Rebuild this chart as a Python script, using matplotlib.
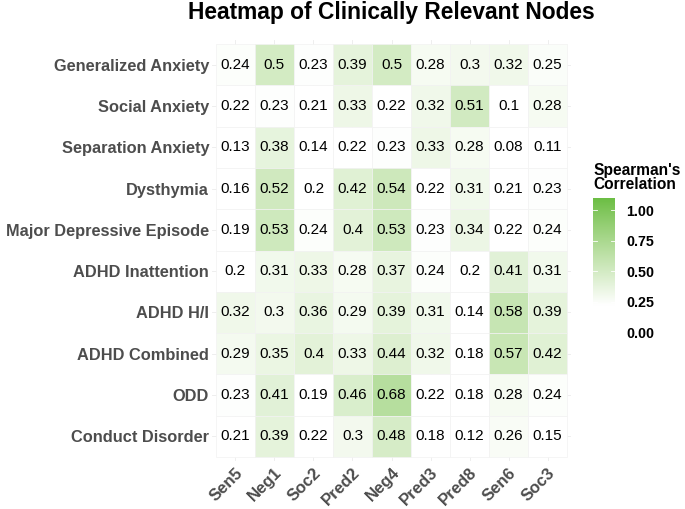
import numpy as np
import matplotlib
matplotlib.use("Agg")
import matplotlib.pyplot as plt
from matplotlib.colors import ListedColormap, Normalize

rows = ["Generalized Anxiety", "Social Anxiety", "Separation Anxiety", "Dysthymia",
        "Major Depressive Episode", "ADHD Inattention", "ADHD H/I", "ADHD Combined",
        "ODD", "Conduct Disorder"]
cols = ["Sen5", "Neg1", "Soc2", "Pred2", "Neg4", "Pred3", "Pred8", "Sen6", "Soc3"]

generalized_anxiety = [0.24, 0.5, 0.23, 0.39, 0.5, 0.28, 0.3, 0.32, 0.25]
social_anxiety = [0.22, 0.23, 0.21, 0.33, 0.22, 0.32, 0.51, 0.1, 0.28]
separation_anxiety = [0.13, 0.38, 0.14, 0.22, 0.23, 0.33, 0.28, 0.08, 0.11]
dysthymia = [0.16, 0.52, 0.2, 0.42, 0.54, 0.22, 0.31, 0.21, 0.23]
major_depressive = [0.19, 0.53, 0.24, 0.4, 0.53, 0.23, 0.34, 0.22, 0.24]
adhd_inattention = [0.2, 0.31, 0.33, 0.28, 0.37, 0.24, 0.2, 0.41, 0.31]
adhd_hi = [0.32, 0.3, 0.36, 0.29, 0.39, 0.31, 0.14, 0.58, 0.39]
adhd_combined = [0.29, 0.35, 0.4, 0.33, 0.44, 0.32, 0.18, 0.57, 0.42]
odd = [0.23, 0.41, 0.19, 0.46, 0.68, 0.22, 0.18, 0.28, 0.24]
conduct_disorder = [0.21, 0.39, 0.22, 0.3, 0.48, 0.18, 0.12, 0.26, 0.15]

legend_ticks = [0.0, 0.25, 0.5, 0.75, 1.0]

values = np.array([generalized_anxiety, social_anxiety, separation_anxiety, dysthymia,
                   major_depressive, adhd_inattention, adhd_hi, adhd_combined,
                   odd, conduct_disorder])

# ---- Lab-space gradient (like ggplot2) ----
def srgb_to_lab(rgb):
    c = np.asarray(rgb, float)
    c = np.where(c <= 0.04045, c / 12.92, ((c + 0.055) / 1.055) ** 2.4)
    M = np.array([[0.4124, 0.3576, 0.1805], [0.2126, 0.7152, 0.0722], [0.0193, 0.1192, 0.9505]])
    xyz = M @ c
    xyz = xyz / np.array([0.95047, 1.0, 1.08883])
    f = np.where(xyz > 0.008856, np.cbrt(xyz), 7.787 * xyz + 16 / 116)
    return np.array([116 * f[1] - 16, 500 * (f[0] - f[1]), 200 * (f[1] - f[2])])

def lab_to_srgb(lab):
    L, a, b = lab
    fy = (L + 16) / 116
    fx = fy + a / 500
    fz = fy - b / 200
    f = np.array([fx, fy, fz])
    xyz = np.where(f ** 3 > 0.008856, f ** 3, (f - 16 / 116) / 7.787)
    xyz = xyz * np.array([0.95047, 1.0, 1.08883])
    Minv = np.array([[3.2406, -1.5372, -0.4986], [-0.9689, 1.8758, 0.0415], [0.0557, -0.2040, 1.0570]])
    c = Minv @ xyz
    c = np.where(c <= 0.0031308, 12.92 * c, 1.055 * np.clip(c, 0, None) ** (1 / 2.4) - 0.055)
    return np.clip(c, 0, 1)

vmin, vmax, vmid = 0.0, 1.1, 0.22
low = srgb_to_lab([1, 1, 1])
high = srgb_to_lab(np.array([108, 190, 68]) / 255)
N = 512
grid = np.linspace(vmin, vmax, N)
cols_rgb = []
for v in grid:
    t = 0.0 if v <= vmid else (v - vmid) / (vmax - vmid)
    cols_rgb.append(lab_to_srgb(low + (high - low) * t))
cmap = ListedColormap(cols_rgb)
norm = Normalize(vmin, vmax)

W, H = 685, 509
fig = plt.figure(figsize=(W / 100, H / 100), dpi=100)
plt.rcParams['font.family'] = ['Liberation Sans', 'DejaVu Sans']

ax = fig.add_axes([212 / W, 1 - 461 / H, 359 / W, 421 / H])
nr, nc = values.shape
ax.set_xlim(-0.6, nc - 0.4)
ax.set_ylim(nr - 0.4, -0.6)
ax.set_xticks(range(nc))
ax.set_yticks(range(nr))
ax.grid(True, color="#ebebeb", linewidth=0.6, zorder=0)
ax.set_axisbelow(True)
for s in ax.spines.values():
    s.set_visible(False)
ax.tick_params(axis="y", length=0, pad=2)
ax.tick_params(axis="x", length=0, pad=3)

for i in range(nr):
    for j in range(nc):
        v = values[i, j]
        ax.add_patch(plt.Rectangle((j - 0.5, i - 0.5), 1, 1, facecolor=cmap(norm(v)),
                                   edgecolor="#f2f2f2", linewidth=0.5, zorder=2))
        ax.text(j, i, f"{v:g}", ha="center", va="center", fontsize=11,
                color="black", zorder=3)

ax.set_yticklabels(rows, fontsize=11.8, fontweight="bold", color="#4d4d4d")
ax.set_xticklabels(cols, fontsize=12, fontweight="bold", color="#4d4d4d",
                   rotation=45, ha="right", va="top", rotation_mode="anchor")

fig.text(391 / W, 1 - 13 / H, "Heatmap of Clinically Relevant Nodes", ha="center",
         va="center", fontsize=16.4, fontweight="bold", color="black")

# colorbar
cax = fig.add_axes([593 / W, 1 - 332 / H, 22 / W, 134 / H])
grad = np.linspace(vmin, vmax, 300).reshape(-1, 1)
cax.imshow(grad, aspect="auto", cmap=cmap, norm=norm, origin="lower",
           extent=[0, 1, vmin, vmax])
cax.set_xlim(0, 1)
cax.set_ylim(vmin, vmax)
cax.set_xticks([])
for s in cax.spines.values():
    s.set_visible(False)
cax.yaxis.tick_right()
cax.set_yticks(legend_ticks)
cax.set_yticklabels([f"{t:.2f}" for t in legend_ticks], fontsize=10.3, fontweight="bold")
cax.tick_params(axis="y", length=0, pad=8)
for t in legend_ticks:
    cax.plot([0, 0.2], [t, t], color="white", lw=0.6)
    cax.plot([0.8, 1], [t, t], color="white", lw=0.6)
fig.text(593 / W, 1 - 163 / H, "Spearman's\nCorrelation", ha="left", va="top",
         fontsize=11.2, fontweight="bold", linespacing=0.95)

fig.savefig("out.png", dpi=100)
